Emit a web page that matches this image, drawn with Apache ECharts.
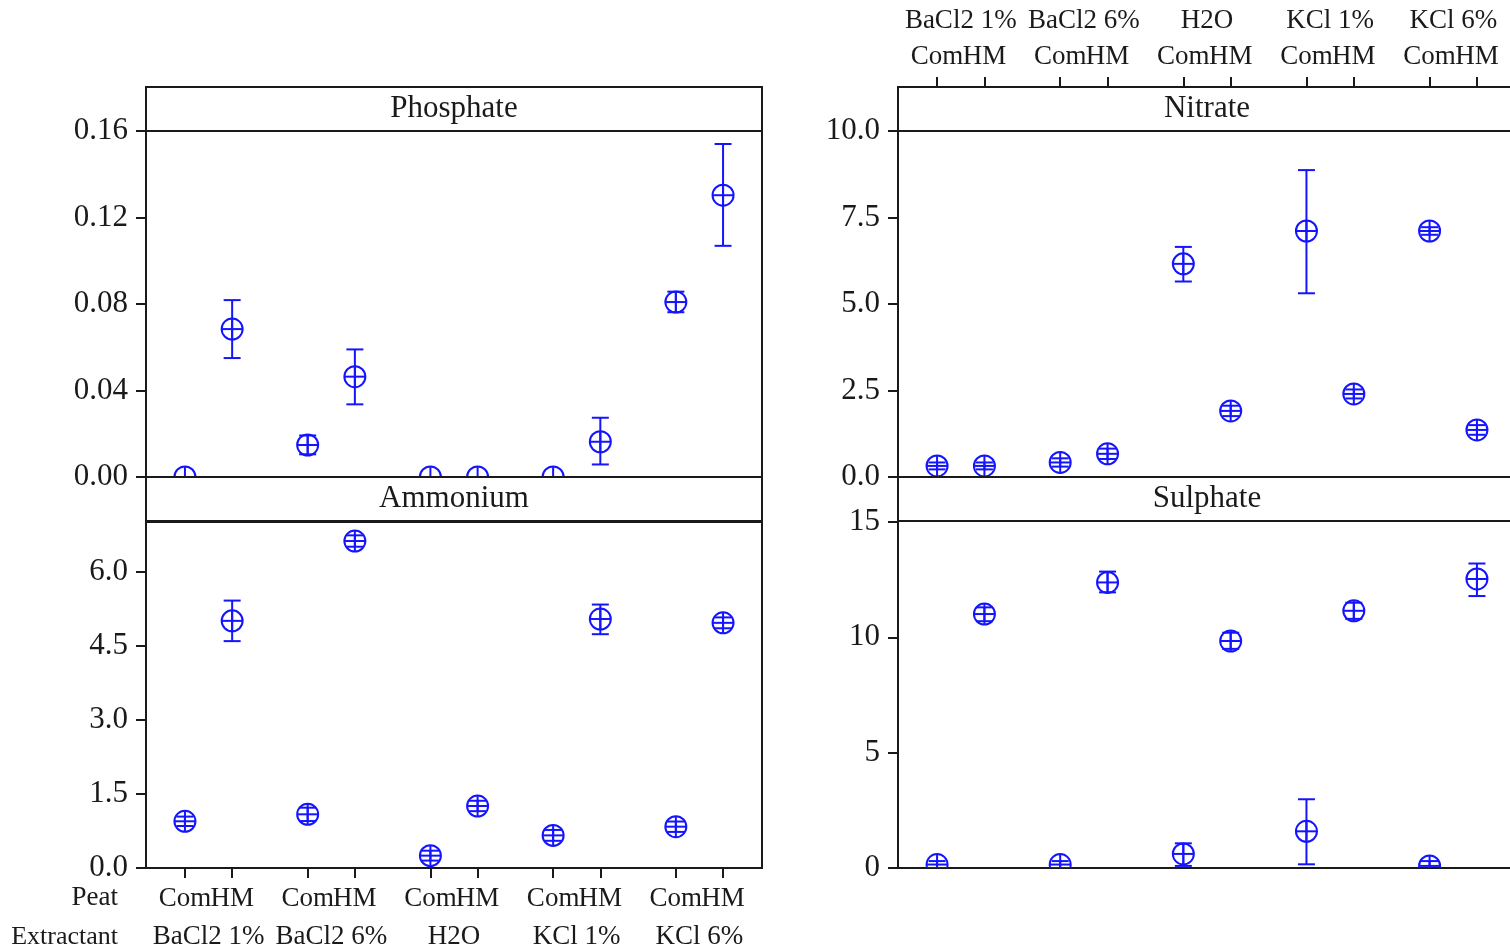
<!DOCTYPE html>
<html>
<head>
<meta charset="utf-8">
<script src="https://cdn.jsdelivr.net/npm/echarts@6/dist/echarts.min.js"></script>
<style>
  html, body { margin: 0; padding: 0; background: #fff; }
  #chart { width: 1510px; height: 952px; }
</style>
</head>
<body>
<div id="chart"></div>
<script>
// categories: each extractant has two peat types, Com then HM
const extractants = ['BaCl2 1%', 'BaCl2 6%', 'H2O', 'KCl 1%', 'KCl 6%'];
const peats = ['Com', 'HM'];

// means and interval ends, order: BaCl2 1% Com, BaCl2 1% HM, BaCl2 6% Com, ...
const phosphateMean = [0, 0.0684, 0.0148, 0.0464, 0, 0, 0, 0.0163, 0.0809, 0.1303];
const phosphateLow  = [0, 0.0550, 0.0105, 0.0336, 0, 0, 0, 0.0058, 0.0762, 0.1069];
const phosphateHigh = [0, 0.0818, 0.0192, 0.0590, 0, 0, 0, 0.0274, 0.0857, 0.1540];

const ammoniumMean = [0.945, 5.00, 1.086, 6.615, 0.25, 1.254, 0.66, 5.037, 0.836, 4.96];
const ammoniumLow  = [0.85, 4.59, 0.95, 6.50, 0.15, 1.15, 0.55, 4.73, 0.73, 4.85];
const ammoniumHigh = [1.04, 5.41, 1.22, 6.73, 0.35, 1.36, 0.77, 5.33, 0.94, 5.07];

const nitrateMean = [0.32, 0.32, 0.42, 0.67, 6.16, 1.91, 7.11, 2.40, 7.11, 1.36];
const nitrateLow  = [0.22, 0.22, 0.30, 0.52, 5.65, 1.76, 5.31, 2.27, 7.00, 1.22];
const nitrateHigh = [0.42, 0.42, 0.54, 0.82, 6.65, 2.06, 8.87, 2.53, 7.22, 1.50];

const sulphateMean = [0.15, 11.01, 0.15, 12.38, 0.61, 9.84, 1.59, 11.15, 0.09, 12.53];
const sulphateLow  = [0.0, 10.70, 0.0, 11.95, 0.09, 9.50, 0.16, 10.80, -0.10, 11.79];
const sulphateHigh = [0.30, 11.30, 0.30, 12.85, 1.07, 10.20, 2.98, 11.50, 0.30, 13.20];

// y tick labels per panel
const phosphateTicks = [0, 0.04, 0.08, 0.12, 0.16];
const ammoniumTicks = [0, 1.5, 3, 4.5, 6];
const nitrateTicks = [0, 2.5, 5, 7.5, 10];
const sulphateTicks = [0, 5, 10, 15];

// x layout: pairs one unit apart, groups 2.6 units apart
const GROUP = 2.6;
const xPos = [];
extractants.forEach((e, i) => peats.forEach((p, j) => xPos.push(i * GROUP + j)));
const comPos = extractants.map((e, i) => i * GROUP);
const hmPos = extractants.map((e, i) => i * GROUP + 1);
const groupPos = extractants.map((e, i) => i * GROUP + 0.5);
const X_MIN = -0.825, X_MAX = 12.225;
// right column runs past the page edge, so only part of its range is visible
const X_MAX_R = 12.098;

const FONT = "'Liberation Serif', 'Times New Roman', serif";
const INK = '#1a1a1a';
const BLUE = '#1414ff';

function lookup(list, labels, v) {
  const k = list.findIndex(p => Math.abs(p - v) < 1e-6);
  return k < 0 ? '' : labels[k];
}

function renderItem(params, api) {
  const x = api.value(0);
  const c = api.coord([x, api.value(1)]);
  const lo = api.coord([x, api.value(2)])[1];
  const hi = api.coord([x, api.value(3)])[1];
  const r = 10.5, cap = 8.5;
  const st = { stroke: BLUE, lineWidth: 2, fill: null };
  return {
    type: 'group',
    children: [
      { type: 'line', shape: { x1: c[0], y1: hi, x2: c[0], y2: lo }, style: st },
      { type: 'line', shape: { x1: c[0] - cap, y1: hi, x2: c[0] + cap, y2: hi }, style: st },
      { type: 'line', shape: { x1: c[0] - cap, y1: lo, x2: c[0] + cap, y2: lo }, style: st },
      { type: 'circle', shape: { cx: c[0], cy: c[1], r: r }, style: { stroke: BLUE, lineWidth: 2, fill: 'none' } },
      { type: 'line', shape: { x1: c[0] - r, y1: c[1], x2: c[0] + r, y2: c[1] }, style: st },
      { type: 'line', shape: { x1: c[0], y1: c[1] - r, x2: c[0], y2: c[1] + r }, style: st }
    ]
  };
}

function points(mean, low, high) {
  return xPos.map((x, i) => [x, mean[i], low[i], high[i]]);
}

const grids = [
  { left: 146, top: 131, width: 616, height: 346, show: true },
  { left: 146, top: 522, width: 616, height: 346, show: true },
  { left: 898, top: 131, right: 0, height: 346, show: false },
  { left: 898, top: 522, right: 0, height: 346, show: false }
].map(g => Object.assign({ borderColor: INK, borderWidth: 2, backgroundColor: '#fff' }, g));

function hiddenX(gi, max) {
  return { type: 'value', gridIndex: gi, min: X_MIN, max: max, show: false, axisLine: { onZero: false } };
}
// bottom edge line only (right column has no frame on the cut side)
function edgeX(gi, max) {
  return {
    type: 'value', gridIndex: gi, min: X_MIN, max: max, position: 'bottom',
    splitLine: { show: false }, axisTick: { show: false }, axisLabel: { show: false },
    axisLine: { show: true, onZero: false, lineStyle: { color: INK, width: 2 } }
  };
}
// one label row on an axis: ticks optional, labels at given positions
function labelX(gi, max, pos, offset, values, labels, margin, withTicks) {
  return {
    type: 'value', gridIndex: gi, min: X_MIN, max: max, position: pos, offset: offset,
    splitLine: { show: false }, axisLine: { show: false, onZero: false },
    axisTick: { show: withTicks, customValues: values, length: 10, lineStyle: { color: INK, width: 2 } },
    axisLabel: {
      customValues: values, margin: margin, fontFamily: FONT, fontSize: 27, color: INK,
      showMinLabel: true, showMaxLabel: true, hideOverlap: false,
      formatter: v => lookup(values, labels, v)
    }
  };
}
function yAxis(gi, max, ticks, digits) {
  return {
    type: 'value', gridIndex: gi, min: 0, max: max,
    splitLine: { show: false },
    axisLine: { show: true, onZero: false, lineStyle: { color: INK, width: 2 } },
    axisTick: { show: true, customValues: ticks, length: 10, lineStyle: { color: INK, width: 2 } },
    axisLabel: {
      customValues: ticks, margin: 18, fontFamily: FONT, fontSize: 31, color: INK,
      showMinLabel: true, showMaxLabel: true,
      formatter: v => v.toFixed(digits)
    }
  };
}

function strip(x, y, w, title) {
  return [
    { type: 'rect', shape: { x: x, y: y, width: w, height: 44 }, style: { fill: '#fff', stroke: INK, lineWidth: 2 }, z: 10 },
    { type: 'text', x: x + w / 2, y: y + 22, style: { text: title, font: '31px ' + FONT, fill: INK, textAlign: 'center', textVerticalAlign: 'middle' }, z: 11 }
  ];
}

const comLabels = extractants.map(() => peats[0]);
const hmLabels = extractants.map(() => peats[1]);

const chart = echarts.init(document.getElementById('chart'));
chart.setOption({
  animation: false,
  backgroundColor: '#fff',
  grid: grids,
  xAxis: [
    hiddenX(0, X_MAX),
    hiddenX(1, X_MAX),
    hiddenX(2, X_MAX_R),
    edgeX(3, X_MAX_R),
    labelX(1, X_MAX, 'bottom', 0, comPos, comLabels, 17, true),
    labelX(1, X_MAX, 'bottom', 0, hmPos, hmLabels, 17, true),
    labelX(1, X_MAX, 'bottom', 0, groupPos, extractants, 55, false),
    labelX(2, X_MAX_R, 'top', 44, comPos, comLabels, 17, true),
    labelX(2, X_MAX_R, 'top', 44, hmPos, hmLabels, 17, true),
    labelX(2, X_MAX_R, 'top', 44, groupPos, extractants, 53, false)
  ],
  yAxis: [
    yAxis(0, 0.16, phosphateTicks, 2),
    yAxis(1, 7, ammoniumTicks, 1),
    yAxis(2, 10, nitrateTicks, 1),
    yAxis(3, 15, sulphateTicks, 0)
  ],
  series: [
    { type: 'custom', xAxisIndex: 0, yAxisIndex: 0, clip: true, renderItem: renderItem, data: points(phosphateMean, phosphateLow, phosphateHigh), z: 5 },
    { type: 'custom', xAxisIndex: 1, yAxisIndex: 1, clip: true, renderItem: renderItem, data: points(ammoniumMean, ammoniumLow, ammoniumHigh), z: 5 },
    { type: 'custom', xAxisIndex: 2, yAxisIndex: 2, clip: true, renderItem: renderItem, data: points(nitrateMean, nitrateLow, nitrateHigh), z: 5 },
    { type: 'custom', xAxisIndex: 3, yAxisIndex: 3, clip: true, renderItem: renderItem, data: points(sulphateMean, sulphateLow, sulphateHigh), z: 5 }
  ],
  graphic: [].concat(
    strip(146, 87, 616, 'Phosphate'),
    strip(146, 477, 616, 'Ammonium'),
    strip(898, 87, 618, 'Nitrate'),
    strip(898, 477, 618, 'Sulphate'),
    [
      { type: 'text', x: 118, y: 898, style: { text: 'Peat', font: '27px ' + FONT, fill: INK, textAlign: 'right', textVerticalAlign: 'middle' } },
      { type: 'text', x: 118, y: 937, style: { text: 'Extractant', font: '26px ' + FONT, fill: INK, textAlign: 'right', textVerticalAlign: 'middle' } }
    ]
  )
});
</script>
</body>
</html>
